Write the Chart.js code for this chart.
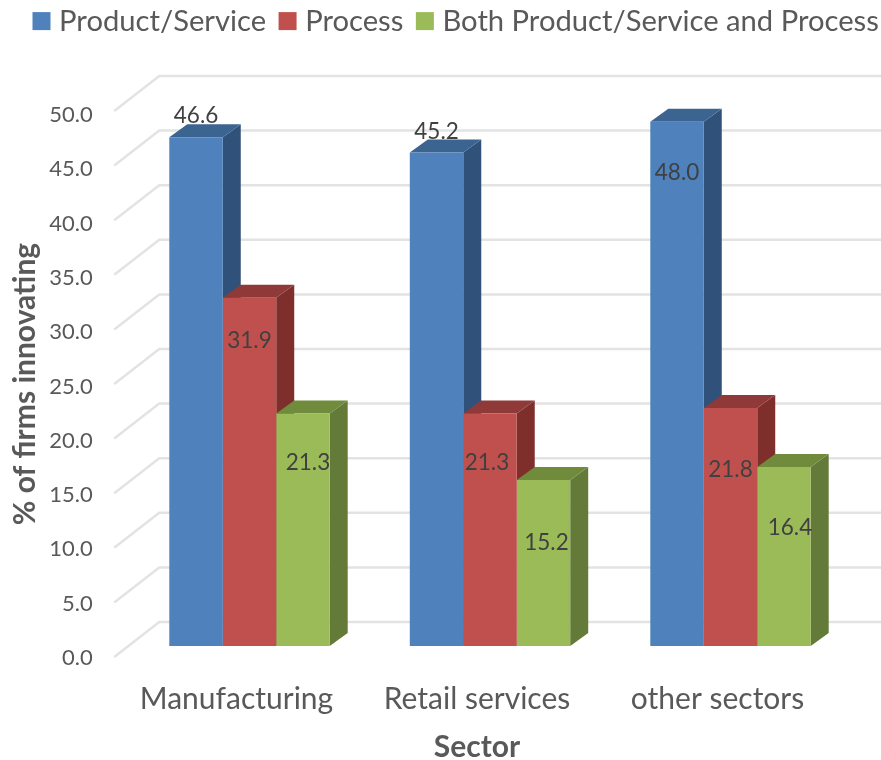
<!DOCTYPE html>
<html>
<head>
<meta charset="utf-8">
<style>html,body{margin:0;padding:0;background:#fff}canvas{display:block}</style>
<script src="https://cdn.jsdelivr.net/npm/chart.js@4/dist/chart.umd.min.js"></script>
</head>
<body>
<canvas id="c" width="881" height="760"></canvas>
<script>
// Sector survey: share of firms innovating, by type of innovation
const categories = ["Manufacturing", "Retail services", "other sectors"];
const productService = [46.6, 45.2, 48.0];
const process = [31.9, 21.3, 21.8];
const both = [21.3, 15.2, 16.4];
const seriesNames = ["Product/Service", "Process", "Both Product/Service and Process"];
const tickValues = [0, 5, 10, 15, 20, 25, 30, 35, 40, 45, 50];

const FONT = "Lato";
const TEXT = "#595959";
const LABEL = "#404040";
const GRID = "#e3e3e3";
const palette = [
  {front: "#4f81bd", side: "#30527a", top: "#3c6491"},
  {front: "#c0504d", side: "#7e2f2c", top: "#8f3a38"},
  {front: "#9bbb59", side: "#647a38", top: "#718b3c"}
];
// Bar depth and wall depth of the pseudo-3D view
const BAR_DX = 18, BAR_DY = -13;
const WALL_DX = 45, WALL_DY = -35;
// The front edge of the floor sits this far below the plane the bars stand on
const FRONT_DROP = 11;
// Label nudges from the top centre of each bar, per series then per category
const labelDx = [[0, 0, 0], [0, -3, 0], [5, 3, 6]];
const labelDy = [[-21, -21, 51], [43, 49, 62], [49, 63, 61]];

const depthPlugin = {
  id: "depth",
  beforeInit(chart) {
    const fit = chart.legend.fit;
    chart.legend.fit = function () { fit.call(this); this.height = 111; };
  },
  afterLayout(chart) {
    // Legend row sits tight against the top edge and starts left of centre
    chart.legend.left = 20;
    chart.legend.right = 930;
    chart.legend.top = -12;
  },
  beforeDatasetsDraw(chart) {
    const {ctx, chartArea: a, scales} = chart;
    ctx.save();
    // Floor edges and back wall
    ctx.strokeStyle = GRID;
    ctx.lineWidth = 2.5;
    tickValues.forEach(v => {
      const py = scales.bars.getPixelForValue(v) + FRONT_DROP;
      ctx.beginPath();
      ctx.moveTo(a.left - 15, py);
      ctx.lineTo(a.left - 15 + WALL_DX, py + WALL_DY);
      ctx.lineTo(chart.width, py + WALL_DY);
      ctx.stroke();
    });
    // Top and side faces behind each front face
    chart.data.datasets.forEach((ds, i) => {
      chart.getDatasetMeta(i).data.forEach(bar => {
        const half = bar.width / 2;
        const l = bar.x - half, r = bar.x + half, t = bar.y, b = bar.base;
        ctx.fillStyle = palette[i].side;
        ctx.beginPath();
        ctx.moveTo(r, t);
        ctx.lineTo(r + BAR_DX, t + BAR_DY);
        ctx.lineTo(r + BAR_DX, b + BAR_DY);
        ctx.lineTo(r, b);
        ctx.closePath();
        ctx.fill();
        ctx.fillStyle = palette[i].top;
        ctx.beginPath();
        ctx.moveTo(l, t);
        ctx.lineTo(l + BAR_DX, t + BAR_DY);
        ctx.lineTo(r + BAR_DX, t + BAR_DY);
        ctx.lineTo(r, t);
        ctx.closePath();
        ctx.fill();
      });
    });
    ctx.restore();
  },
  afterDatasetsDraw(chart) {
    const {ctx} = chart;
    ctx.save();
    ctx.font = "22.5px " + FONT;
    ctx.fillStyle = LABEL;
    ctx.textAlign = "center";
    ctx.textBaseline = "middle";
    chart.data.datasets.forEach((ds, i) => {
      chart.getDatasetMeta(i).data.forEach((bar, j) => {
        ctx.fillText(ds.data[j].toFixed(1), bar.x + labelDx[i][j], bar.y + labelDy[i][j]);
      });
    });
    ctx.restore();
  }
};

new Chart(document.getElementById("c"), {
  type: "bar",
  data: {
    labels: categories,
    datasets: [productService, process, both].map((values, i) => ({
      label: seriesNames[i],
      data: values,
      yAxisID: "bars",
      backgroundColor: palette[i].front,
      borderWidth: 0,
      barPercentage: 1,
      categoryPercentage: 0.667
    }))
  },
  plugins: [depthPlugin],
  options: {
    responsive: false,
    animation: false,
    layout: {padding: {right: 30.25, left: 0, top: 0, bottom: 0}},
    plugins: {
      tooltip: {enabled: false},
      legend: {
        position: "top",
        align: "start",
        labels: {
          boxWidth: 6,
          boxHeight: 6,
          padding: 18.5,
          color: TEXT,
          font: {family: FONT, size: 29.2},
          generateLabels(chart) {
            return chart.data.datasets.map((ds, i) => ({
              text: ds.label,
              fillStyle: palette[i].front,
              strokeStyle: palette[i].front,
              lineWidth: 12,
              fontColor: TEXT,
              datasetIndex: i
            }));
          }
        }
      }
    },
    scales: {
      x: {
        grid: {display: false},
        border: {display: false},
        ticks: {
          color: TEXT,
          font: {family: FONT, size: 30},
          padding: 16,
          labelOffset: -13,
          maxRotation: 0
        },
        title: {
          display: true,
          text: "Sector",
          color: TEXT,
          font: {family: FONT, size: 30, weight: "bold"},
          padding: 0
        },
        afterFit(scale) {
          scale.height = 103;
          if (!scale.titleShifted) {
            const drawTitle = scale.drawTitle;
            scale.drawTitle = function () {
              this.ctx.save();
              this.ctx.translate(-13, 5);
              drawTitle.call(this);
              this.ctx.restore();
            };
            scale.titleShifted = true;
          }
        }
      },
      // Tick labels run at a slightly tighter pitch than the floor lines
      y: {
        min: 0.09,
        max: 50.37,
        grid: {display: false},
        border: {display: false},
        ticks: {
          color: TEXT,
          font: {family: FONT, size: 22},
          padding: 35.5,
          callback: v => v.toFixed(1)
        },
        title: {
          display: true,
          text: "% of firms innovating",
          color: TEXT,
          font: {family: FONT, size: 30, weight: "bold"},
          padding: {top: 7, bottom: 0}
        },
        afterBuildTicks(scale) {
          scale.ticks = tickValues.map(value => ({value}));
        },
        afterFit(scale) {
          scale.width = 129.25;
          // Tick column sits closer to the floor edge than the default gutter
          if (!scale.tickShifted) {
            const compute = scale._computeLabelItems;
            scale._computeLabelItems = function (area) {
              const items = compute.call(this, area);
              items.forEach(item => { item.options.translation[0] += 7; });
              return items;
            };
            scale.tickShifted = true;
          }
        }
      },
      // The bars stand on a plane about one unit above the front axis baseline
      bars: {
        display: false,
        min: -1.007,
        max: 48.993
      }
    }
  }
});
</script>
</body>
</html>
